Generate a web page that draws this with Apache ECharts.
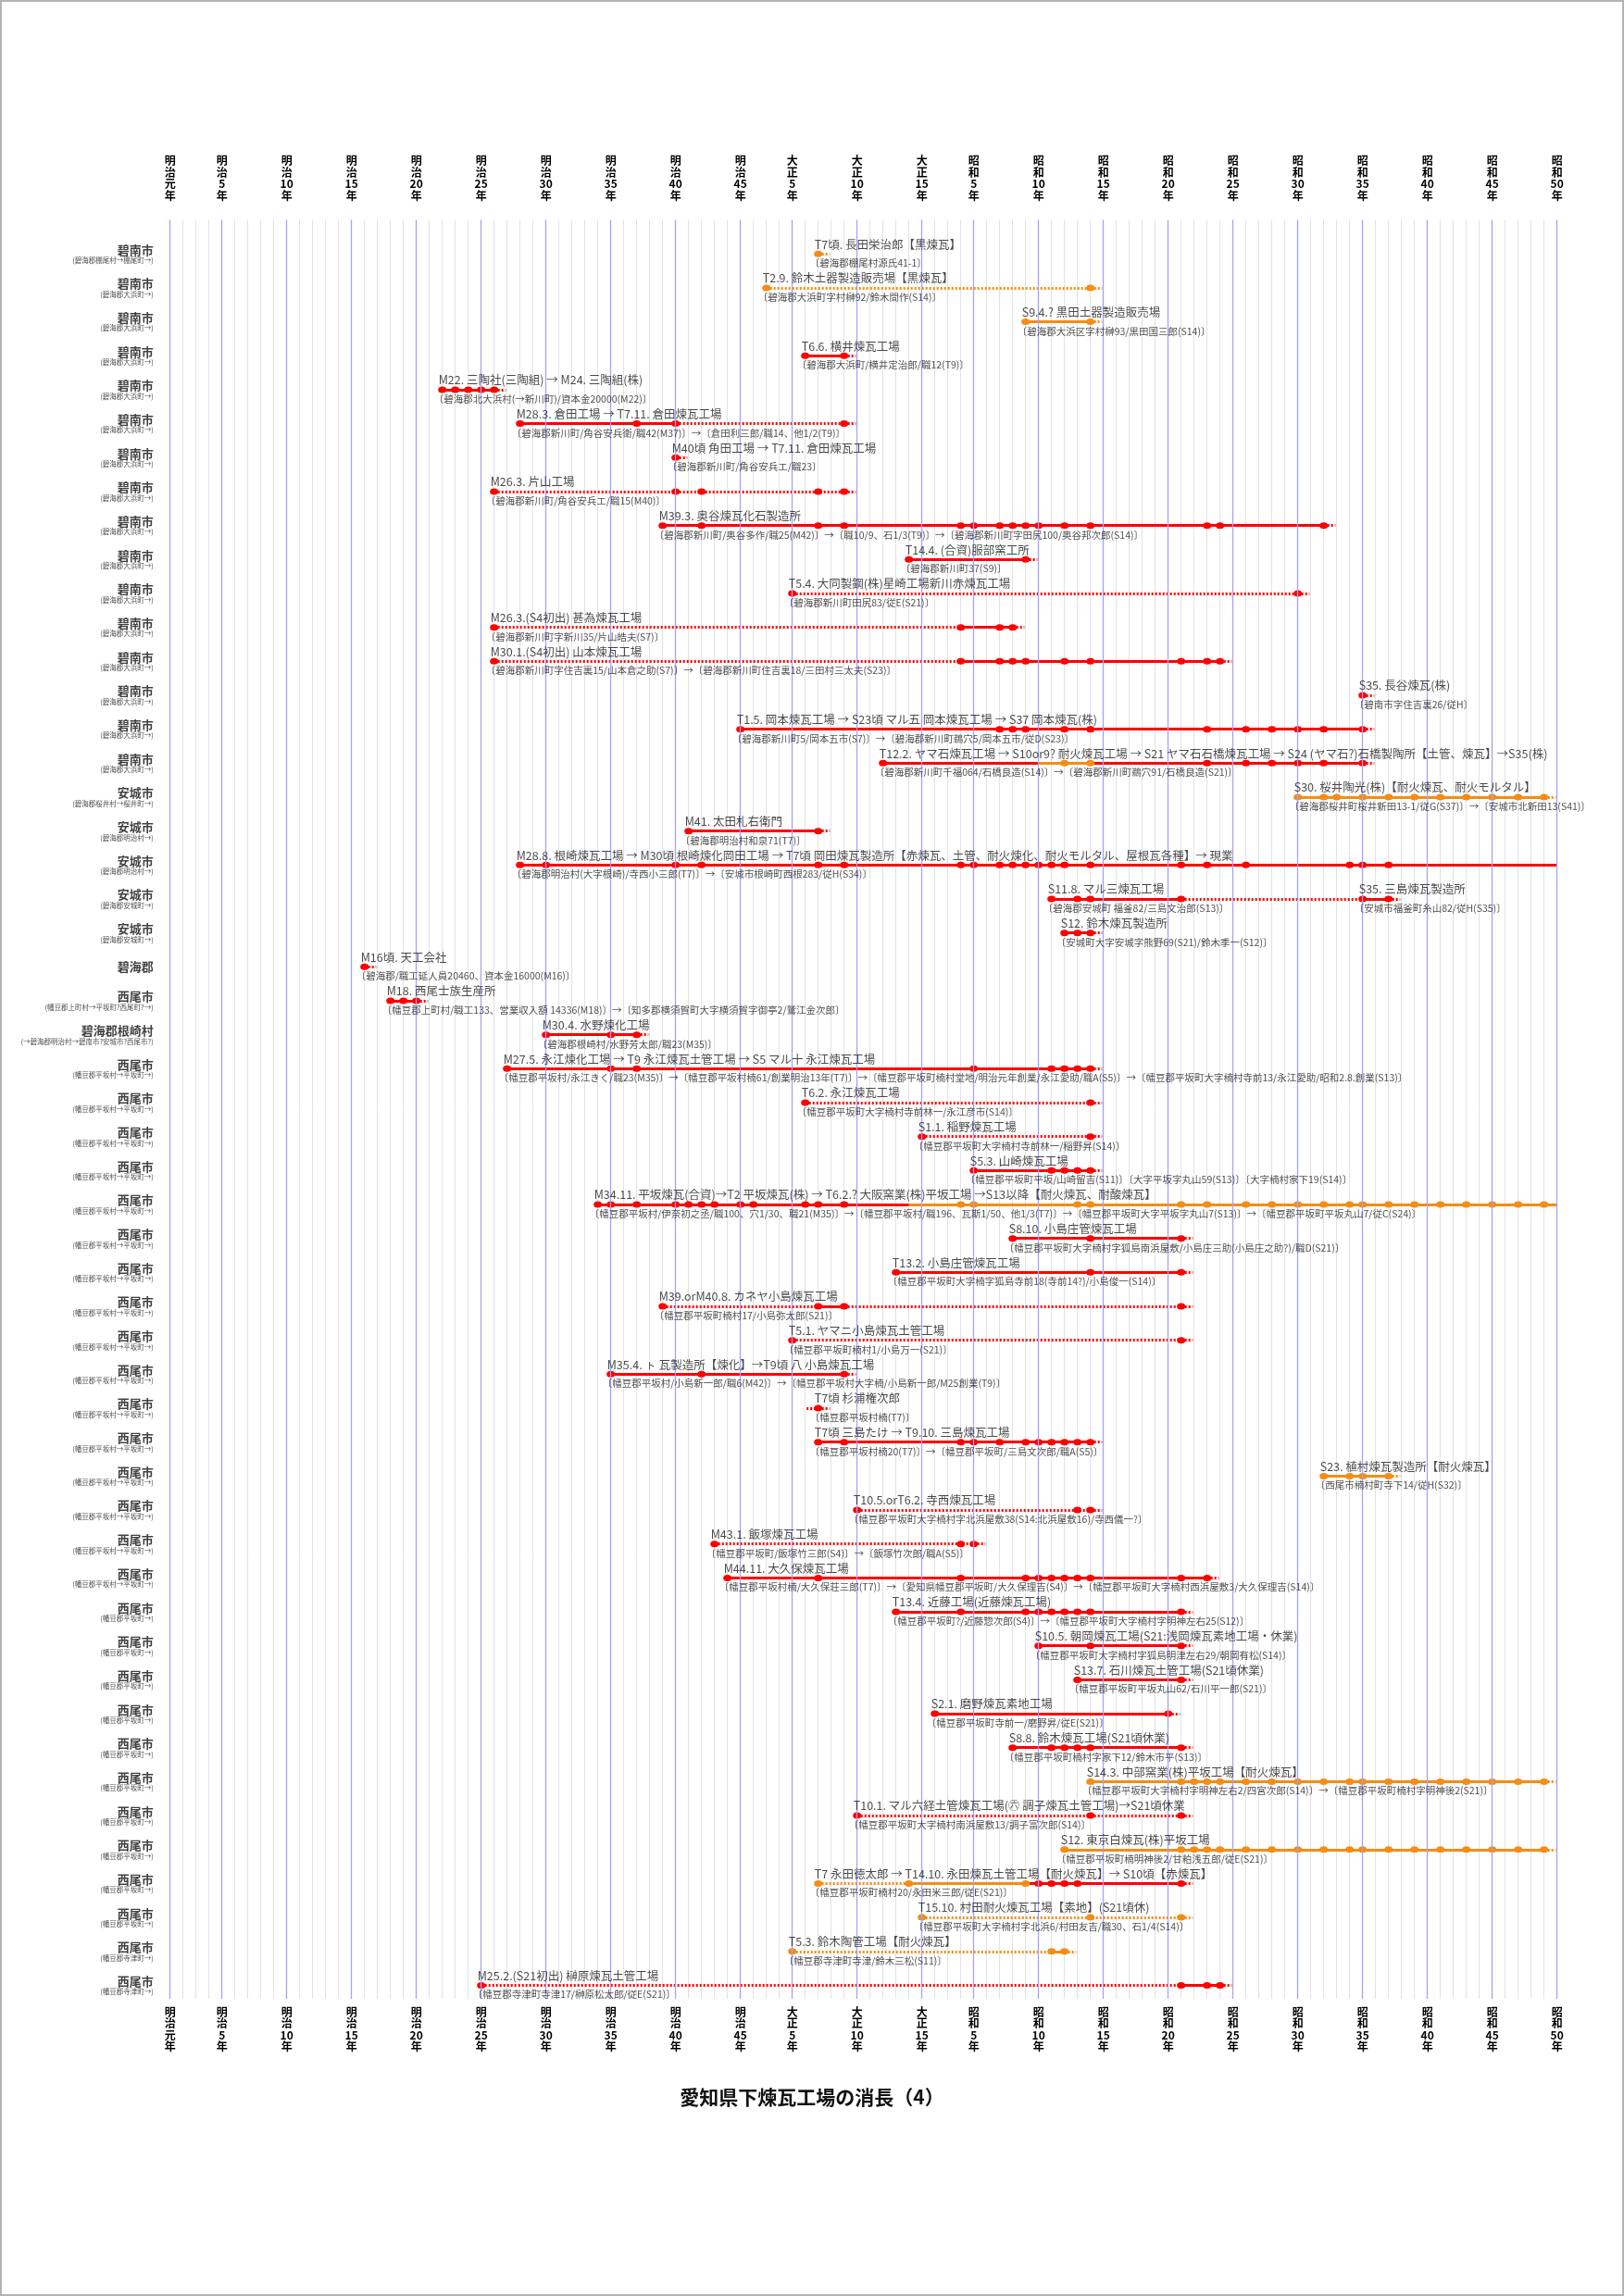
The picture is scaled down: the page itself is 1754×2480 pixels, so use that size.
<!DOCTYPE html>
<html><head><meta charset="utf-8">
<script src="https://cdn.jsdelivr.net/npm/echarts@6/dist/echarts.min.js"></script>
<style>
html,body{margin:0;padding:0;background:#fff}
#chart{position:absolute;left:0;top:0;width:1754px;height:2480px}
#frame{position:absolute;left:0;top:0;width:1754px;height:2480px;box-sizing:border-box;border:2px solid #b4b4b4;pointer-events:none}
</style>
</head><body><div id="chart"></div><div id="frame"></div>
<script>
// ---------- axis ticks ----------
const tickYears = [1868,1872,1877,1882,1887,1892,1897,1902,1907,1912,1916,1921,1926,1930,1935,1940,1945,1950,1955,1960,1965,1970,1975];
const tickLabels = ['明治元年','明治5年','明治10年','明治15年','明治20年','明治25年','明治30年','明治35年','明治40年','明治45年','大正5年','大正10年','大正15年','昭和5年','昭和10年','昭和15年','昭和20年','昭和25年','昭和30年','昭和35年','昭和40年','昭和45年','昭和50年'];

// ---------- row place names ----------
const places = ['碧南市','碧南市','碧南市','碧南市','碧南市','碧南市','碧南市','碧南市','碧南市','碧南市','碧南市','碧南市','碧南市','碧南市','碧南市','碧南市',
 '安城市','安城市','安城市','安城市','安城市','碧海郡','西尾市','碧海郡根崎村',
 '西尾市','西尾市','西尾市','西尾市','西尾市','西尾市','西尾市','西尾市','西尾市','西尾市','西尾市','西尾市','西尾市','西尾市','西尾市','西尾市',
 '西尾市','西尾市','西尾市','西尾市','西尾市','西尾市','西尾市','西尾市','西尾市','西尾市','西尾市','西尾市'];
const placeSubs = ['(碧海郡棚尾村→棚尾町→)','(碧海郡大浜町→)','(碧海郡大浜町→)','(碧海郡大浜町→)','(碧海郡大浜町→)','(碧海郡大浜町→)','(碧海郡大浜町→)','(碧海郡大浜町→)','(碧海郡大浜町→)','(碧海郡大浜町→)','(碧海郡大浜町→)','(碧海郡大浜町→)','(碧海郡大浜町→)','(碧海郡大浜町→)','(碧海郡大浜町→)','(碧海郡大浜町→)',
 '(碧海郡桜井村→桜井町→)','(碧海郡明治村→)','(碧海郡明治村→)','(碧海郡安城町→)','(碧海郡安城町→)','','(幡豆郡上町村→平坂町?西尾町?→)','(→碧海郡明治村→碧南市?安城市?西尾市?)',
 '(幡豆郡平坂村→平坂町→)','(幡豆郡平坂村→平坂町→)','(幡豆郡平坂村→平坂町→)','(幡豆郡平坂村→平坂町→)','(幡豆郡平坂村→平坂町→)','(幡豆郡平坂村→平坂町→)','(幡豆郡平坂村→平坂町→)','(幡豆郡平坂村→平坂町→)','(幡豆郡平坂村→平坂町→)','(幡豆郡平坂村→平坂町→)','(幡豆郡平坂村→平坂町→)','(幡豆郡平坂村→平坂町→)','(幡豆郡平坂村→平坂町→)','(幡豆郡平坂村→平坂町→)','(幡豆郡平坂村→平坂町→)','(幡豆郡平坂村→平坂町→)',
 '(幡豆郡平坂町→)','(幡豆郡平坂町→)','(幡豆郡平坂町→)','(幡豆郡平坂町→)','(幡豆郡平坂町→)','(幡豆郡平坂町→)','(幡豆郡平坂町→)','(幡豆郡平坂町→)','(幡豆郡平坂町→)','(幡豆郡平坂町→)','(幡豆郡寺津町→)','(幡豆郡寺津町→)'];

// ---------- factory labels ----------
const labels = [
'T7頃. 長田栄治郎【黒煉瓦】',
'T2.9. 鈴木土器製造販売場【黒煉瓦】',
'S9.4.? 黒田土器製造販売場',
'T6.6. 横井煉瓦工場',
'M22. 三陶社(三陶組) → M24. 三陶組(株)',
'M28.3. 倉田工場 → T7.11. 倉田煉瓦工場',
'M40頃 角田工場 → T7.11. 倉田煉瓦工場',
'M26.3. 片山工場',
'M39.3. 奥谷煉瓦化石製造所',
'T14.4. (合資)服部窯工所',
'T5.4. 大同製鋼(株)星崎工場新川赤煉瓦工場',
'M26.3.(S4初出) 甚為煉瓦工場',
'M30.1.(S4初出) 山本煉瓦工場',
'S35. 長谷煉瓦(株)',
'T1.5. 岡本煉瓦工場 → S23頃 マル五 岡本煉瓦工場 → S37 岡本煉瓦(株)',
'T12.2. ヤマ石煉瓦工場 → S10or9? 耐火煉瓦工場 → S21 ヤマ石石橋煉瓦工場 → S24 (ヤマ石?)石橋製陶所【土管、煉瓦】→S35(株)',
'S30. 桜井陶光(株)【耐火煉瓦、耐火モルタル】',
'M41. 太田札右衛門',
'M28.8. 根崎煉瓦工場 → M30頃 根崎煉化岡田工場 → T7頃 岡田煉瓦製造所【赤煉瓦、土管、耐火煉化、耐火モルタル、屋根瓦各種】→ 現業',
'S11.8. マル三煉瓦工場',
'S12. 鈴木煉瓦製造所',
'M16頃. 天工会社',
'M18. 西尾士族生産所',
'M30.4. 水野煉化工場',
'M27.5. 永江煉化工場 → T9 永江煉瓦土管工場 → S5 マル十 永江煉瓦工場',
'T6.2. 永江煉瓦工場',
'S1.1. 稲野煉瓦工場',
'S5.3. 山崎煉瓦工場',
'M34.11. 平坂煉瓦(合資)→T2 平坂煉瓦(株) → T6.2.? 大阪窯業(株)平坂工場 →S13以降【耐火煉瓦、耐酸煉瓦】',
'S8.10. 小島庄管煉瓦工場',
'T13.2. 小島庄管煉瓦工場',
'M39.orM40.8. カネヤ小島煉瓦工場',
'T5.1. ヤマニ小島煉瓦土管工場',
'M35.4. ㇳ 瓦製造所【煉化】→T9頃 ⼋ 小島煉瓦工場',
'T7頃 杉浦権次郎',
'T7頃 三島たけ → T9.10. 三島煉瓦工場',
'S23. 植村煉瓦製造所【耐火煉瓦】',
'T10.5.orT6.2. 寺西煉瓦工場',
'M43.1. 飯塚煉瓦工場',
'M44.11. 大久保煉瓦工場',
'T13.4. 近藤工場(近藤煉瓦工場)',
'S10.5. 朝岡煉瓦工場(S21:浅岡煉瓦素地工場・休業)',
'S13.7. 石川煉瓦土管工場(S21頃休業)',
'S2.1. 磨野煉瓦素地工場',
'S8.8. 鈴木煉瓦工場(S21頃休業)',
'S14.3. 中部窯業(株)平坂工場【耐火煉瓦】',
'T10.1. マル六経土管煉瓦工場(㊅ 調子煉瓦土管工場)→S21頃休業',
'S12. 東京白煉瓦(株)平坂工場',
'T7 永田徳太郎 → T14.10. 永田煉瓦土管工場【耐火煉瓦】→ S10頃【赤煉瓦】',
'T15.10. 村田耐火煉瓦工場【素地】(S21頃休)',
'T5.3. 鈴木陶管工場【耐火煉瓦】',
'M25.2.(S21初出) 榊原煉瓦土管工場'
];
const subLabels = [
'〔碧海郡棚尾村源氏41-1〕',
'〔碧海郡大浜町字村榊92/鈴木間作(S14)〕',
'〔碧海郡大浜区字村榊93/黒田国三郎(S14)〕',
'〔碧海郡大浜町/横井定治郎/職12(T9)〕',
'〔碧海郡北大浜村(→新川町)/資本金20000(M22)〕',
'〔碧海郡新川町/角谷安兵衛/職42(M37)〕→〔倉田利三郎/職14、他1/2(T9)〕',
'〔碧海郡新川町/角谷安兵エ/職23〕',
'〔碧海郡新川町/角谷安兵エ/職15(M40)〕',
'〔碧海郡新川町/奥谷多作/職25(M42)〕→〔職10/9、石1/3(T9)〕→〔碧海郡新川町字田尻100/奥谷邦次郎(S14)〕',
'〔碧海郡新川町37(S9)〕',
'〔碧海郡新川町田尻83/従E(S21)〕',
'〔碧海郡新川町字新川35/片山皓夫(S7)〕',
'〔碧海郡新川町字住吉裏15/山本倉之助(S7)〕→〔碧海郡新川町住吉裏18/三田村三太夫(S23)〕',
'〔碧南市字住吉裏26/従H〕',
'〔碧海郡新川町5/岡本五市(S7)〕→〔碧海郡新川町鵜穴5/岡本五市/従D(S23)〕',
'〔碧海郡新川町千福064/石橋良造(S14)〕→〔碧海郡新川町鵜穴91/石橋良造(S21)〕',
'〔碧海郡桜井町桜井新田13-1/従G(S37)〕→〔安城市北新田13(S41)〕',
'〔碧海郡明治村和泉71(T7)〕',
'〔碧海郡明治村(大字根崎)/寺西小三郎(T7)〕→〔安城市根崎町西根283/従H(S34)〕',
'〔碧海郡安城町 福釜82/三島文治郎(S13)〕',
'〔安城町大字安城字熊野69(S21)/鈴木季一(S12)〕',
'〔碧海郡/職工延人員20460、資本金16000(M16)〕',
'〔幡豆郡上町村/職工133、営業収入額 14336(M18)〕→〔知多郡横須賀町大字横須賀字御亭2/鷲江金次郎〕',
'〔碧海郡根崎村/水野芳太郎/職23(M35)〕',
'〔幡豆郡平坂村/永江きく/職23(M35)〕→〔幡豆郡平坂村楠61/創業明治13年(T7)〕→〔幡豆郡平坂町楠村堂地/明治元年創業/永江愛助/職A(S5)〕→〔幡豆郡平坂町大字楠村寺前13/永江愛助/昭和2.8.創業(S13)〕',
'〔幡豆郡平坂町大字楠村寺前林一/永江彦市(S14)〕',
'〔幡豆郡平坂町大字楠村寺前林一/稲野昇(S14)〕',
'〔幡豆郡平坂町平坂/山崎留吉(S11)〕〔大字平坂字丸山59(S13)〕〔大字楠村家下19(S14)〕',
'〔幡豆郡平坂村/伊奈初之丞/職100、穴1/30、職21(M35)〕→〔幡豆郡平坂村/職196、瓦斯1/50、他1/3(T7)〕→〔幡豆郡平坂町大字平坂字丸山7(S13)〕→〔幡豆郡平坂町平坂丸山7/従C(S24)〕',
'〔幡豆郡平坂町大字楠村字狐島南浜屋敷/小島庄三助(小島庄之助?)/職D(S21)〕',
'〔幡豆郡平坂町大字楠字狐島寺前18(寺前14?)/小島俊一(S14)〕',
'〔幡豆郡平坂町楠村17/小島弥太郎(S21)〕',
'〔幡豆郡平坂町楠村1/小島万一(S21)〕',
'〔幡豆郡平坂村/小島新一郎/職6(M42)〕→〔幡豆郡平坂村大字楠/小島新一郎/M25創業(T9)〕',
'〔幡豆郡平坂村楠(T7)〕',
'〔幡豆郡平坂村楠20(T7)〕→〔幡豆郡平坂町/三島文次郎/職A(S5)〕',
'〔西尾市楠村町寺下14/従H(S32)〕',
'〔幡豆郡平坂町大字楠村字北浜屋敷38(S14:北浜屋敷16)/寺西儀一?〕',
'〔幡豆郡平坂町/飯塚竹三郎(S4)〕→〔飯塚竹次郎/職A(S5)〕',
'〔幡豆郡平坂村楠/大久保荘三郎(T7)〕→〔愛知県幡豆郡平坂町/大久保理吉(S4)〕→〔幡豆郡平坂町大字楠村西浜屋敷3/大久保理吉(S14)〕',
'〔幡豆郡平坂町?/近藤惣次郎(S4)〕→〔幡豆郡平坂町大字楠村字明神左右25(S12)〕',
'〔幡豆郡平坂町大字楠村字狐島明津左右29/朝岡有松(S14)〕',
'〔幡豆郡平坂町平坂丸山62/石川平一郎(S21)〕',
'〔幡豆郡平坂町寺前一/磨野昇/従E(S21)〕',
'〔幡豆郡平坂町楠村字家下12/鈴木市平(S13)〕',
'〔幡豆郡平坂町大字楠村字明神左右2/四宮次郎(S14)〕→〔幡豆郡平坂町楠村字明神後2(S21)〕',
'〔幡豆郡平坂町大字楠村南浜屋敷13/調子富次郎(S14)〕',
'〔幡豆郡平坂町楠明神後2/甘粕浅五郎/従E(S21)〕',
'〔幡豆郡平坂町楠村20/永田米三郎/従E(S21)〕',
'〔幡豆郡平坂町大字楠村字北浜6/村田友吉/職30、石1/4(S14)〕',
'〔幡豆郡寺津町寺津/鈴木三松(S11)〕',
'〔幡豆郡寺津町寺津17/榊原松太郎/従E(S21)〕'
];
// second label on row 20
const extraLabels = [[20, 1960, 'S35. 三島煉瓦製造所', '〔安城市福釜町糸山82/従H(S35)〕']];

// ---------- colour category per row: R = red, O = orange ----------
const rowKind = ['O','O','O','R','R','R','R','R','R','R','R','R','R','R','R','R','O','R','R','R','R','R','R','R','R','R','R','R','R','R','R','R','R','R','R','R','O','R','R','R','R','R','R','R','R','O','R','O','O','O','O','R'];

// ---------- periods: [from, to, confirmed(1)/presumed(0), (kind)] ----------
const segments = [
 [], [[1914,1939,0]], [[1934,1939,1]], [[1917,1920,1]], [[1889,1893,1]],
 [[1895,1907,1],[1907,1920,0]], [], [[1893,1920,0]], [[1906,1957,1]], [[1925,1934,1]],
 [[1916,1955,0]], [[1893,1929,0],[1929,1933,1]], [[1893,1929,0],[1929,1949,1]], [], [[1912,1960,1]],
 [[1923,1935,1],[1935,1939,1,'O'],[1939,1960,1]], [[1955,1974,1]], [[1908,1918,1]], [[1895,1975,1]],
 [[1936,1946,1],[1946,1960,0],[1960,1962,1]], [[1937,1939,1]], [], [[1885,1887,1]], [[1897,1904,1]],
 [[1894,1939,1]], [[1917,1939,0]], [[1926,1939,0]], [[1930,1939,1]], [[1901,1925,1],[1925,1975,1,'O']],
 [[1933,1946,1]], [[1924,1946,1]], [[1906,1918,0],[1918,1920,1],[1920,1946,0]], [[1916,1946,0]], [[1902,1920,1]],
 [], [[1918,1939,1]], [[1957,1962,1]], [[1921,1939,0]], [[1910,1930,0]], [[1911,1948,1]], [[1924,1946,1]],
 [[1935,1946,1]], [[1938,1946,1]], [[1927,1945,1]], [[1933,1946,1]], [[1939,1974,1]], [[1921,1946,0]],
 [[1937,1974,1]], [[1918,1925,0],[1925,1934,1],[1934,1946,1,'R']], [[1926,1946,0]], [[1916,1936,0],[1936,1937,1]],
 [[1892,1946,0],[1946,1949,1]]
];

// ---------- recorded years (dots): year or [year, kind] ----------
const dots = [
 [1918], [1914,1939], [1934,1939], [1917,1920], [1889,1890,1891,1892,1893],
 [1895,1904,1907,1920], [1907], [1893,1907,1909,1918,1920],
 [1906,1909,1918,1920,1929,1930,1932,1933,1934,1935,1937,1939,1948,1949,1957],
 [1925,1934], [1916,1955], [1893,1929,1932,1933],
 [1893,1929,1932,1933,1934,1937,1939,1946,1948,1949], [1960],
 [1912,1932,1933,1934,1937,1939,1948,1951,1953,1955,1957,1960],
 [1923,[1937,'O'],[1939,'O'],1948,1951,1953,1955,1957,1960],
 [1955,1957,1958,1960,1962,1964,1966,1968,1970,1972,1974], [1908,1918],
 [1895,1897,1907,1909,1918,1920,1929,1930,1932,1933,1934,1935,1936,1937,1939,1946,1948,1951,1959,1960,1962],
 [1936,1938,1939,1946,1960,1962], [1937,1938,1939], [1883], [1885,1886,1887], [1897,1902,1904],
 [1894,1902,1904,1930,1936,1937,1938,1939], [1917,1939], [1926,1939], [1930,1936,1937,1938,1939],
 [1901,1902,1904,1907,1908,1909,1910,1912,1913,1917,1918,1920,[1929,'O'],[1930,'O'],[1938,'O'],[1939,'O'],[1946,'O'],[1948,'O'],[1951,'O'],[1953,'O'],[1955,'O'],[1957,'O'],[1959,'O'],[1960,'O'],[1962,'O'],[1964,'O'],[1966,'O'],[1968,'O'],[1970,'O'],[1972,'O'],[1974,'O']],
 [1933,1939,1946], [1924,1939,1946], [1906,1918,1920,1946], [1916,1946], [1902,1909,1920], [1918],
 [1918,1920,1929,1930,1932,1934,1935,1936,1937,1938,1939], [1957,1959,1960,1962], [1921,1938,1939],
 [1910,1929,1930], [1911,1918,1929,1934,1935,1936,1937,1938,1939,1946,1948],
 [1924,1929,1934,1935,1936,1937,1938,1939,1946], [1935,1939,1946], [1938,1946], [1927,1945],
 [1933,1936,1937,1938,1939,1946],
 [1939,1946,1947,1948,1949,1951,1953,1955,1957,1959,1960,1962,1964,1966,1968,1970,1972,1974],
 [1921,1939,1946],
 [1937,1946,1947,1948,1949,1951,1953,1955,1957,1959,1960,1962,1964,1966,1968,1970,1972,1974],
 [1918,1925,1934,[1935,'R'],[1936,'R'],[1937,'R'],[1938,'R'],[1946,'R']],
 [1926,1939,1946], [1916,1936,1937], [1892,1946,1948,1949]
];
// continuation marks: 1 = after last record, 2 = both sides, 0 = runs to present
const openEnds = [1,1,1,1,1,1,1,1,1,1,1,1,1,1,1,1,1,1,0,1,1,1,1,1,1,1,1,1,0,1,1,1,1,1,2,1,1,1,1,1,1,1,1,1,1,1,1,1,1,1,1,1];

// ---------- styling ----------
const FONT = '"Noto Sans CJK JP","Noto Sans",sans-serif';
const COLORS = {R:'#ff0000', O:'#f58c14'};
const STUB = 0.9;
const tickMap = {}; tickYears.forEach((y,i)=>{ tickMap[y] = tickLabels[i]; });
function stack(s){ const m = s.match(/^(.)(.)(.+)(年)$/); return [m[1],m[2],m[3],m[4]].join('\n'); }

const lineBuckets = {R1:[],R0:[],O1:[],O0:[]};
const dotBuckets = {R:[],O:[]};
const mainData = [], subData = [];
labels.forEach((lab,i)=>{
  const row = i+1;
  const ds = dots[i].map(d => Array.isArray(d) ? {y:d[0], k:d[1]} : {y:d, k:rowKind[i]});
  ds.forEach(d => dotBuckets[d.k].push([d.y,row]));
  segments[i].forEach(s => { const k = (s[3]||rowKind[i]) + s[2]; lineBuckets[k].push({coords:[[s[0],row],[s[1],row]]}); });
  const first = ds[0], last = ds[ds.length-1];
  if (openEnds[i] >= 1) lineBuckets[last.k+'0'].push({coords:[[last.y,row],[last.y+STUB,row]]});
  if (openEnds[i] === 2) lineBuckets[first.k+'0'].push({coords:[[first.y-STUB,row],[first.y,row]]});
  mainData.push({name:lab, value:[first.y,row]});
  subData.push({name:subLabels[i], value:[first.y,row]});
});
extraLabels.forEach(e => { mainData.push({name:e[2], value:[e[1],e[0]]}); subData.push({name:e[3], value:[e[1],e[0]]}); });

const series = [];
series.push({
  type:'scatter', name:'places', z:1, symbolSize:0, silent:true,
  data: places.map((p,i)=>({value:[1868,i+1], name: placeSubs[i] ? '{a|'+p+'}\n{b|'+placeSubs[i]+'}' : '{a|'+p+'}'})),
  label:{show:true, position:[-18,0], align:'right', verticalAlign:'middle', formatter:'{b}',
    rich:{a:{fontSize:13, fontWeight:'bold', lineHeight:14, color:'#111', fontFamily:FONT, align:'right'},
          b:{fontSize:7.5, lineHeight:9, color:'#222', fontFamily:FONT, align:'right'}}},
  markLine:{silent:true, symbol:['none','none'], animation:false, label:{show:false},
    lineStyle:{color:'#a3a3f6', width:1.3, type:'solid'}, data: tickYears.map(y=>({xAxis:y}))}
});
[['R1','R',1],['R0','R',0],['O1','O',1],['O0','O',0]].forEach(([key,k,c])=>{
  series.push({type:'lines', coordinateSystem:'cartesian2d', z:3, silent:true, polyline:false,
    lineStyle:{color:COLORS[k], width:3, opacity:1, curveness:0, type: c ? 'solid' : [2,2]},
    data: lineBuckets[key]});
});
['R','O'].forEach(k=>{
  series.push({type:'scatter', z:4, silent:true, symbol:'circle', symbolSize:[9,7],
    itemStyle:{color:COLORS[k], opacity:1}, data: dotBuckets[k]});
});
series.push({type:'scatter', z:5, silent:true, symbolSize:0, data: mainData,
  label:{show:true, formatter:'{b}', position:[-4,-10.5], align:'left', verticalAlign:'middle',
    fontSize:12.5, color:'#1a1a1a', fontFamily:FONT}});
series.push({type:'scatter', z:5, silent:true, symbolSize:0, data: subData,
  label:{show:true, formatter:'{b}', position:[-9,10], align:'left', verticalAlign:'middle',
    fontSize:10.5, color:'#222', fontFamily:FONT}});

const axisLabelBase = {fontSize:12, fontWeight:'bold', lineHeight:12.5, color:'#000', fontFamily:FONT,
  formatter: v => tickMap[v] ? stack(tickMap[v]) : ''};
const option = {
  animation:false,
  backgroundColor:'#ffffff',
  title:{text:'愛知県下煉瓦工場の消長（4）', left:'center', top:2250,
    textStyle:{fontSize:21, fontWeight:'bold', color:'#111', fontFamily:FONT}},
  grid:{left:183.7, right:72.3, top:237.6, bottom:320.9},
  xAxis:[
    {type:'value', position:'top', min:1868, max:1975, interval:1,
     axisLine:{show:false}, axisTick:{show:false},
     splitLine:{show:true, lineStyle:{color:'#e2e2e2', width:1}},
     axisLabel:Object.assign({margin:20}, axisLabelBase)},
    {type:'value', position:'bottom', min:1868, max:1975, interval:1,
     axisLine:{show:false}, axisTick:{show:false}, splitLine:{show:false},
     axisLabel:Object.assign({margin:8}, axisLabelBase)}
  ],
  yAxis:{type:'value', min:0, max:52.4, inverse:true, show:false},
  series: series
};
const chart = echarts.init(document.getElementById('chart'), null, {renderer:'canvas', width:1754, height:2480});
chart.setOption(option);
</script></body></html>
